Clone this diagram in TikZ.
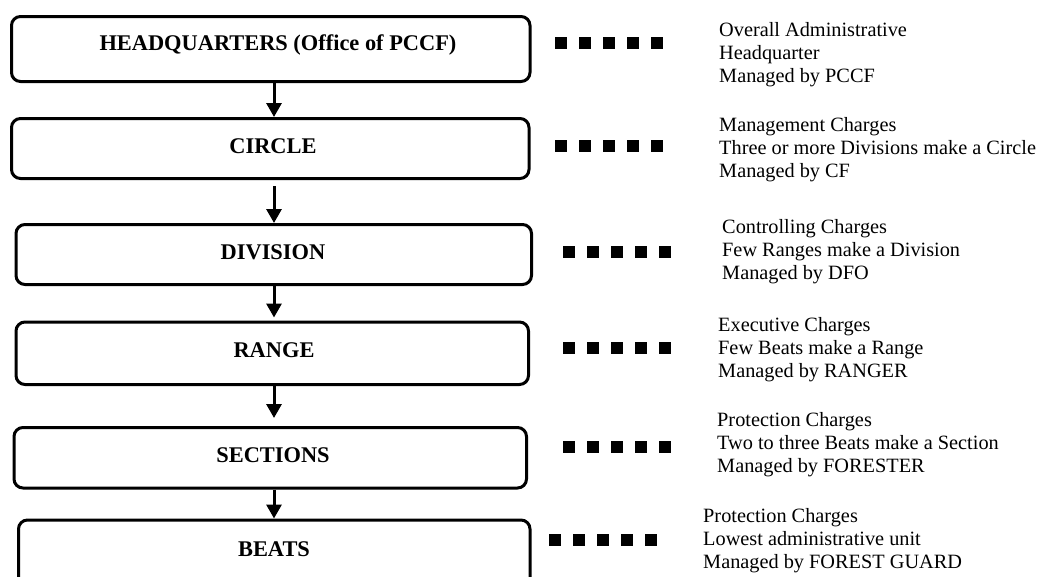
\documentclass[tikz,border=0pt]{standalone}
\usepackage{fontspec}
\setmainfont{Liberation Serif}
\usetikzlibrary{arrows.meta}

\begin{document}
\begin{tikzpicture}[x=1pt,y=-1pt,
  level/.style={draw, line width=3pt, rounded corners=9pt, inner sep=0pt},
  leveltext/.style={font=\fontsize{22.4}{26}\selectfont\bfseries, anchor=base, inner sep=0pt},
  note/.style={font=\fontsize{20.3}{22.8}\selectfont, align=left, anchor=base west, inner sep=0pt},
  flow/.style={line width=3pt, -{Triangle[length=14pt,width=15pt]}},
  squares/.style={line width=12pt, dash pattern=on 12pt off 12pt}
]
\useasboundingbox (0,0) rectangle (1054,576);

% hierarchy boxes
\node[level, minimum width=518.5pt, minimum height=65pt]   (hq)  at (270.75,49)   {};
\node[level, minimum width=517.5pt, minimum height=60pt]   (cir) at (270.25,148.5) {};
\node[level, minimum width=515.5pt, minimum height=60pt]   (div) at (273.75,254.5) {};
\node[level, minimum width=512.5pt, minimum height=62.5pt] (rng) at (272.25,353.25) {};
\node[level, minimum width=512.5pt, minimum height=60.5pt] (sec) at (270.25,457.75) {};
\node[level, minimum width=511.5pt, minimum height=70pt]   (bt)  at (274.25,555)  {};

% box captions
\node[leveltext] (hqt)  at (278,50)  {HEADQUARTERS (Office of PCCF)};
\node[leveltext] (cirt) at (273,153) {CIRCLE};
\node[leveltext] (divt) at (273,259) {DIVISION};
\node[leveltext] (rngt) at (274,357) {RANGE};
\node[leveltext] (sect) at (273,462) {SECTIONS};
\node[leveltext] (btt)  at (274,556) {BEATS};

% vertical axis for the arrows
\coordinate (axis) at (274,0);
\draw[flow] (hq.south -| axis) -- (cir.north -| axis);
\draw[flow, shorten <=6pt] (cir.south -| axis) -- (div.north -| axis);
\draw[flow, shorten >=3pt] (div.south -| axis) -- (rng.north -| axis);
\draw[flow, shorten >=8pt] (rng.south -| axis) -- (sec.north -| axis);
\draw[flow] (sec.south -| axis) -- (bt.north -| axis);

% descriptions (anchored on the baseline of their last line)
\node[note] (n1) at (719,82)  {Overall Administrative\\Headquarter\\Managed by PCCF};
\node[note] (n2) at (719,177) {Management Charges\\Three or more Divisions make a Circle\\Managed by CF};
\node[note] (n3) at (722,279) {Controlling Charges\\Few Ranges make a Division\\Managed by DFO};
\node[note] (n4) at (718,377) {Executive Charges\\Few Beats make a Range\\Managed by RANGER};
\node[note] (n5) at (717,472) {Protection Charges\\Two to three Beats make a Section\\Managed by FORESTER};
\node[note] (n6) at (703,568) {Protection Charges\\Lowest administrative unit\\Managed by FOREST GUARD};

% square leaders
\draw[squares] (555,42.5) -- (667,42.5);
\draw[squares] (555,146)  -- (667,146);
\draw[squares] (563,252)  -- (675,252);
\draw[squares] (563,347.5) -- (675,347.5);
\draw[squares] (563,447)  -- (675,447);
\draw[squares] (549,540)  -- (661,540);
\end{tikzpicture}
\end{document}
